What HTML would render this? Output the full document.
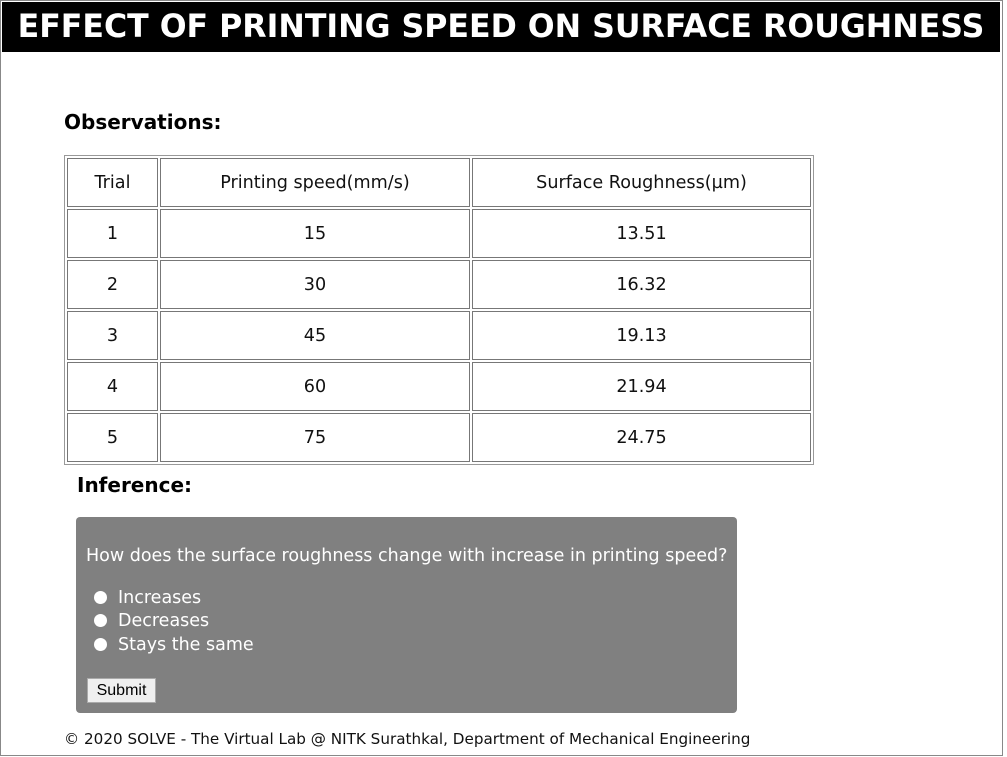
<!DOCTYPE html>
<html><head><meta charset="utf-8"><style>
*{box-sizing:border-box}
body{margin:0;width:1007px;height:757px;background:#fff;font-family:"DejaVu Sans","Liberation Sans",sans-serif;position:relative;overflow:hidden}
#frame{position:absolute;left:0;top:0;width:1003px;height:756px;border:1px solid #888}
#hdr{position:absolute;left:2px;top:2px;width:998px;height:50px;background:#000;color:#fff;font-weight:bold;font-size:31.6px;text-align:center;line-height:50px;white-space:nowrap}
#obs{position:absolute;left:64px;top:110px;font-weight:bold;font-size:20px}
table{position:absolute;left:64px;top:155px;border:1px solid #999;border-spacing:2px;border-collapse:separate}
td{border:1px solid #777;height:49px;text-align:center;font-size:17.6px;padding:0;color:#111}
#inf{position:absolute;left:77px;top:473px;font-weight:bold;font-size:20px}
#box{position:absolute;left:76px;top:517px;width:661px;height:196px;background:#808080;border-radius:4px;color:#fff}
#q{position:absolute;left:10px;top:29px;font-size:17.5px;white-space:nowrap}
.opt{position:absolute;left:18px;font-size:17.5px;white-space:nowrap}
.opt span.r{display:inline-block;width:13px;height:13px;border-radius:50%;background:#fff;margin-right:11px;vertical-align:-1px}
#sub{position:absolute;left:11px;top:161px;width:69px;height:25px;background:#efefef;border:1px solid #aaa;color:#000;font-family:"Liberation Sans",sans-serif;font-size:16px;line-height:23px;text-align:center}
#foot{position:absolute;left:64px;top:730px;font-size:15.2px;color:#111;white-space:nowrap}
</style></head><body>
<div id="frame"></div>
<div id="hdr">EFFECT OF PRINTING SPEED ON SURFACE ROUGHNESS</div>
<div id="obs">Observations:</div>
<table>
<tr><td style="width:91px">Trial</td><td style="width:310px">Printing speed(mm/s)</td><td style="width:339px">Surface Roughness(µm)</td></tr>
<tr><td>1</td><td>15</td><td>13.51</td></tr>
<tr><td>2</td><td>30</td><td>16.32</td></tr>
<tr><td>3</td><td>45</td><td>19.13</td></tr>
<tr><td>4</td><td>60</td><td>21.94</td></tr>
<tr><td>5</td><td>75</td><td>24.75</td></tr>
</table>
<div id="inf">Inference:</div>
<div id="box">
<div id="q">How does the surface roughness change with increase in printing speed?</div>
<div class="opt" style="top:71px"><span class="r"></span>Increases</div>
<div class="opt" style="top:94px"><span class="r"></span>Decreases</div>
<div class="opt" style="top:118px"><span class="r"></span>Stays the same</div>
<div id="sub">Submit</div>
</div>
<div id="foot">© 2020 SOLVE - The Virtual Lab @ NITK Surathkal, Department of Mechanical Engineering</div>
</body></html>
